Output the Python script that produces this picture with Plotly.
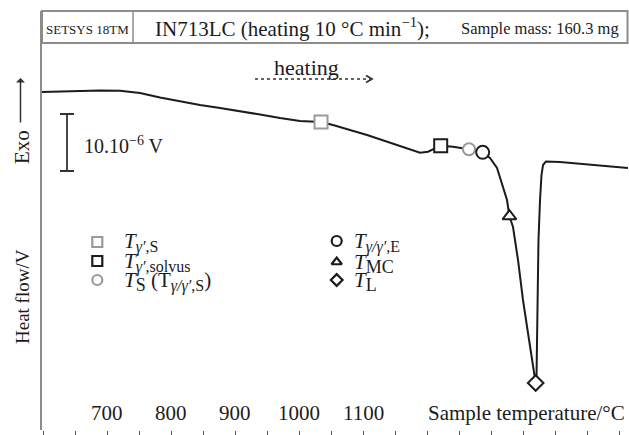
import plotly.graph_objects as go

# ---------------- data ----------------
temp_C = [598.4, 626.6, 657.8, 689.1, 720.3, 751.6, 782.8, 814.1, 845.3, 876.6,
          907.8, 939.1, 970.3, 1001.6, 1034.4, 1053.1, 1106.3, 1157.8, 1189.1, 1201.6,
          1215.6, 1221.4, 1240.6, 1265.6, 1287.0, 1298.4, 1309.4, 1317.2, 1325.0, 1328.8,
          1334.4, 1342.2, 1350.0, 1357.8, 1365.6, 1369.8, 1371.1, 1373.4, 1374.2, 1376.6,
          1378.9, 1381.3, 1385.9, 1407.8, 1443.8, 1478.1, 1514.1]
heat_flow_uV = [0.0, 0.09, 0.18, 0.26, 0.23, -0.18, -0.96, -1.67, -2.28, -2.81,
                -3.33, -3.95, -4.56, -5.09, -5.26, -5.79, -7.54, -9.47, -10.65, -10.47,
                -9.77, -9.42, -9.60, -10.05, -10.58, -11.58, -13.33, -15.96, -18.95, -21.8,
                -23.68, -29.47, -36.49, -42.28, -48.25, -51.05, -50.18, -36.49, -25.96, -18.95,
                -14.56, -12.81, -12.19, -12.28, -12.63, -12.98, -13.33]

def sub(txt, size):
    return f"<sub><span style='font-size:{size}px'>{txt}</span></sub>"

event_names = ["<i>T</i>" + sub("<i>γ′</i>,S", 16),
               "<i>T</i>" + sub("<i>γ′</i>,solvus", 16),
               "<i>T</i>" + sub("S", 18) + " (T" + sub("<i>γ/γ′</i>,S", 16) + ")",
               "<i>T</i>" + sub("<i>γ/γ′</i>,E", 16),
               "<i>T</i>" + sub("MC", 18),
               "<i>T</i>" + sub("L", 18)]
event_temp = [1034.4, 1221.4, 1265.6, 1287.0, 1328.8, 1369.8]
event_uV = [-5.26, -9.42, -10.05, -10.58, -21.8, -51.05]

tick_label_values = [700, 800, 900, 1000, 1100]
scale_bar_uV = 10

# ---------------- styling / layout helpers ----------------
W, H = 629, 435
ML, MR, MT, MB = 42, 1, 11, 5
FONT = "Liberation Serif, Times New Roman, DejaVu Serif, serif"
INK = "#1c1c1c"
GREY = "#9a9a9a"
FRAME = "#8c8c8c"

def px(x):
    return (x - ML) / (W - ML - MR)

def py(y):
    return (H - MB - y) / (H - MT - MB)

symbols = ["square", "square", "circle", "circle", "triangle-up", "diamond"]
colors = [GREY, INK, GREY, INK, INK, INK]
sizes = [13, 13, 12, 13, 12, 12]

fig = go.Figure()

# DTA curve
fig.add_trace(go.Scatter(x=temp_C, y=heat_flow_uV, mode="lines",
                         line=dict(color=INK, width=2), hoverinfo="skip",
                         showlegend=False))

# event markers
for name, t, v, s, c, sz in zip(event_names, event_temp, event_uV, symbols, colors, sizes):
    fig.add_trace(go.Scatter(x=[t], y=[v], mode="markers", showlegend=False,
                             marker=dict(symbol=s, size=sz, color="white",
                                         line=dict(color=c, width=2))))

# scale bar (10 µV) via error bar
sb_x = 700 + (67 - 107) / 0.64
sb_center = -(142.5 - 92) / 5.7
fig.add_trace(go.Scatter(x=[sb_x], y=[sb_center], mode="markers",
                         marker=dict(size=1, color="rgba(0,0,0,0)"),
                         error_y=dict(type="constant", value=scale_bar_uV / 2,
                                      color="#333", thickness=1.8, width=7),
                         showlegend=False, hoverinfo="skip"))

# legend keys (manual legend, overlay axes in plot-fraction units)
key_pos = [(97.3, 242), (97.3, 261), (97.3, 280), (336.7, 241), (336.7, 262), (336.7, 280)]
key_sizes = [10, 10, 10, 10, 9, 9]
for (kx, ky), s, c, ks in zip(key_pos, symbols, colors, key_sizes):
    fig.add_trace(go.Scatter(x=[px(kx)], y=[py(ky)], mode="markers", xaxis="x2", yaxis="y2",
                             marker=dict(symbol=s, size=ks, color="white",
                                         line=dict(color=c, width=2.2)),
                             showlegend=False, hoverinfo="skip"))

annotations = []
text_x = [122, 122, 122, 352, 352, 352]
for name, (kx, ky), tx in zip(event_names, key_pos, text_x):
    annotations.append(dict(x=px(tx), y=py(ky + 1), xref="paper", yref="paper",
                            text=name, showarrow=False, xanchor="left", yanchor="middle",
                            font=dict(family=FONT, size=21, color=INK)))

# x tick labels placed inside above the ticks
for v in tick_label_values:
    annotations.append(dict(x=v, y=py(413), xref="x", yref="paper", text=str(v),
                            showarrow=False, xanchor="center", yanchor="middle",
                            font=dict(family=FONT, size=21, color=INK)))
annotations.append(dict(x=px(627), y=py(413), xref="paper", yref="paper",
                        text="Sample temperature/°C", showarrow=False,
                        xanchor="right", yanchor="middle",
                        font=dict(family=FONT, size=21, color=INK)))

# y labels
annotations.append(dict(x=px(22), y=py(147), xref="paper", yref="paper", text="Exo",
                        textangle=-90, showarrow=False, xanchor="center", yanchor="middle",
                        font=dict(family=FONT, size=21, color=INK)))
annotations.append(dict(x=px(22), y=py(297), xref="paper", yref="paper", text="Heat flow/V",
                        textangle=-90, showarrow=False, xanchor="center", yanchor="middle",
                        font=dict(family=FONT, size=19, color=INK)))
annotations.append(dict(x=px(20.5), y=py(78), xref="paper", yref="paper", text="",
                        showarrow=True, ax=0, ay=46, arrowhead=1, arrowsize=1,
                        arrowwidth=1.5, arrowcolor="#333"))

# scale label
annotations.append(dict(x=px(82), y=py(145), xref="paper", yref="paper",
                        text="10.10<sup>−6</sup> V", showarrow=False,
                        xanchor="left", yanchor="middle",
                        font=dict(family=FONT, size=20, color=INK)))

# heating
annotations.append(dict(x=px(306), y=py(67), xref="paper", yref="paper", text="heating",
                        showarrow=False, xanchor="center", yanchor="middle",
                        font=dict(family=FONT, size=22, color=INK)))

# header box texts
annotations.append(dict(x=px(87.5), y=py(29), xref="paper", yref="paper", text="SETSYS 18TM",
                        showarrow=False, xanchor="center", yanchor="middle",
                        font=dict(family=FONT, size=13, color=INK)))
annotations.append(dict(x=px(153), y=py(27), xref="paper", yref="paper",
                        text="IN713LC (heating 10 °C min<sup>−1</sup>);",
                        showarrow=False, xanchor="left", yanchor="middle",
                        font=dict(family=FONT, size=21, color=INK)))
annotations.append(dict(x=px(459), y=py(28.5), xref="paper", yref="paper",
                        text="Sample mass: 160.3 mg",
                        showarrow=False, xanchor="left", yanchor="middle",
                        font=dict(family=FONT, size=16.5, color=INK)))

shapes = [
    dict(type="rect", xref="paper", yref="paper", x0=px(42), x1=px(627.5), y0=py(43), y1=py(11),
         line=dict(color=FRAME, width=2)),
    dict(type="line", xref="paper", yref="paper", x0=px(133), x1=px(133), y0=py(43), y1=py(11),
         line=dict(color=FRAME, width=1.5)),
    dict(type="line", xref="paper", yref="paper", x0=px(255), x1=px(370), y0=py(79), y1=py(79),
         line=dict(color="#333", width=1.6, dash="dot")),
    dict(type="path", xref="paper", yref="paper",
         path=f"M {px(366)},{py(75.5)} L {px(372)},{py(79)} L {px(366)},{py(82.5)}",
         line=dict(color="#333", width=1.8)),
]

x_lo = 700 + (ML - 107) / 0.64
x_hi = 700 + (W - MR - 107) / 0.64
y_hi = -(MT - 92) / 5.7
y_lo = -(H - MB - 92) / 5.7

fig.update_layout(
    width=W, height=H, autosize=False,
    margin=dict(l=ML, r=MR, t=MT, b=MB, pad=0),
    paper_bgcolor="white", plot_bgcolor="white",
    showlegend=False,
    xaxis=dict(range=[x_lo, x_hi], showgrid=False, zeroline=False, showline=False,
               ticks="outside", ticklen=5, tickwidth=1.3, tickcolor="#555",
               tick0=600, dtick=50, showticklabels=False, fixedrange=True),
    yaxis=dict(range=[y_lo, y_hi], showgrid=False, zeroline=False, showline=True,
               linecolor=FRAME, linewidth=2, ticks="", showticklabels=False,
               fixedrange=True),
    xaxis2=dict(range=[0, 1], overlaying="x", visible=False, fixedrange=True),
    yaxis2=dict(range=[0, 1], overlaying="y", visible=False, fixedrange=True),
    annotations=annotations,
    shapes=shapes,
)

fig.write_html("out.html")
